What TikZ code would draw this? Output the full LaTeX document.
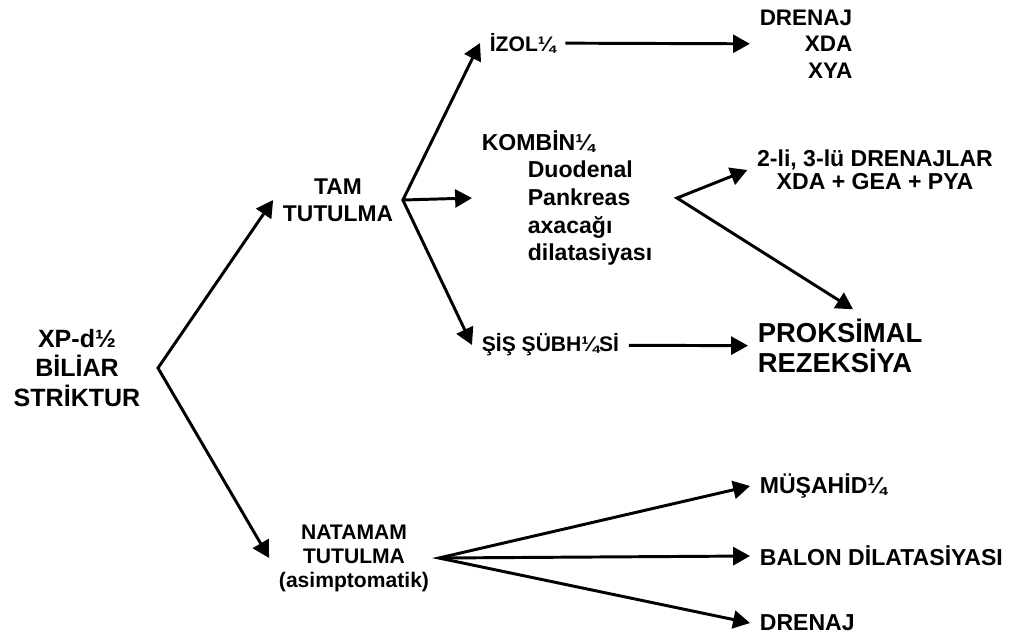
\documentclass[tikz,border=0pt]{standalone}
\usepackage{fontspec}
\setmainfont{Liberation Sans}
\usetikzlibrary{arrows.meta,calc}

\begin{document}
\begin{tikzpicture}[x=0.025cm,y=-0.025cm,
  fs/.style 2 args={font=\fontsize{#1}{#2}\selectfont\bfseries},
  lbl/.style={inner sep=3.5pt,outer sep=3.5pt},
  arr/.style={line width=2.1pt,-{Triangle[length=12pt,width=12.8pt]}},
  biarr/.style={line width=2.1pt,{Triangle[length=12pt,width=12.8pt]}-{Triangle[length=12pt,width=12.8pt]}}]
\useasboundingbox (0,0) rectangle (1014,634);
% left part
\node[lbl,fs={17.8}{21.3},align=center] (xp) at (77,368) {XP-d½\\BİLİAR\\STRİKTUR};
\node[lbl,fs={16.2}{19.2},align=center] (tam) at (338,200) {TAM\\TUTULMA};
\node[lbl,fs={15}{17.1},align=center] (nat) at (354,558) {NATAMAM\\TUTULMA\\(asimptomatik)};
\coordinate (b0) at (158,368);
\draw[biarr] (tam.west) -- (b0) -- (nat.west);
% tam tutulma
\node[lbl,fs={15}{18},anchor=west] (izol) at (480,43) {İZOL¼};
\node[lbl,fs={16.4}{19.6},anchor=west,align=left] (kombin) at (472,198)
  {KOMBİN¼\\\hspace*{32.7pt}Duodenal\\\hspace*{32.7pt}Pankreas\\\hspace*{32.7pt}axacağı\\\hspace*{32.7pt}dilatasiyası};
\node[lbl,fs={15}{18},anchor=west] (sis) at (472,345) {ŞİŞ ŞÜBH¼Sİ};
\draw[biarr] (izol.west) -- (tam.east) -- (sis.west);
\draw[arr] (tam.east) -- (kombin.west);
\node[lbl,fs={16}{18.9},align=right] (dren) at (806,44) {DRENAJ\\XDA\\XYA};
\draw[arr] (izol) -- (dren);
\node[lbl,fs={16.4}{16.5},align=center] (drenlar) at (875,170) {2-li, 3-lü DRENAJLAR\\XDA + GEA + PYA};
\node[lbl,fs={19.5}{21.3},anchor=west,align=left] (prok) at (748,346) {PROKSİMAL\\REZEKSİYA};
\coordinate (b2) at (677,198);
\draw[biarr] (drenlar.west) -- (b2) -- ($(prok.north)+(13,0)$);
\draw[arr] (sis) -- (prok);
% natamam tutulma
\node[lbl,fs={16.4}{19.6},anchor=west] (mus) at (750,486) {MÜŞAHİD¼};
\node[lbl,fs={16.4}{19.6},anchor=west] (balon) at (750,556) {BALON DİLATASİYASI};
\node[lbl,fs={16.4}{19.6},anchor=west] (dren2) at (750,623) {DRENAJ};
\draw[biarr] (mus.west) -- (nat.east) -- (dren2.west);
\draw[arr] (nat.east) -- (balon.west);
\end{tikzpicture}
\end{document}
